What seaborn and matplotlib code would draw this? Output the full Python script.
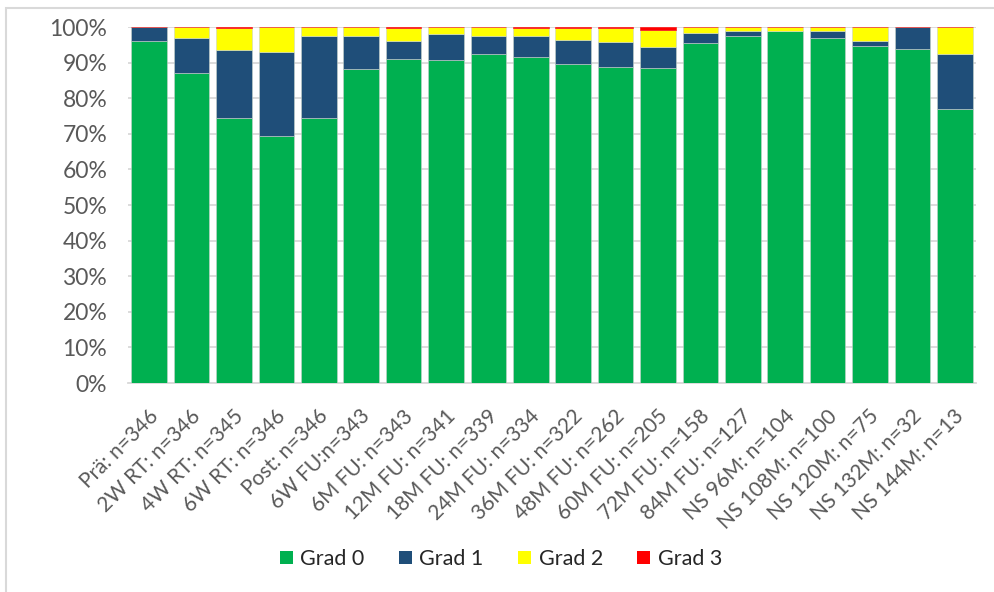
import matplotlib
matplotlib.use("Agg")
import matplotlib.pyplot as plt
import matplotlib.transforms as mtransforms
from matplotlib.patches import Rectangle, Patch
from matplotlib.ticker import FuncFormatter
import seaborn as sns
import pandas as pd
import numpy as np

categories = ["Prä: n=346", "2W RT: n=346", "4W RT: n=345", "6W RT: n=346",
              "Post: n=346", "6W FU:n=343", "6M FU: n=343", "12M FU: n=341",
              "18M FU: n=339", "24M FU: n=334", "36M FU: n=322", "48M FU: n=262",
              "60M FU: n=205", "72M FU: n=158", "84M FU: n=127", "NS 96M: n=104",
              "NS 108M: n=100", "NS 120M: n=75", "NS 132M: n=32", "NS 144M: n=13"]
grad0 = [96.1, 87.1, 74.4, 69.3, 74.3, 88.1, 91.0, 90.6, 92.4, 91.7,
         89.5, 88.7, 88.6, 95.4, 97.5, 99.0, 97.0, 94.7, 93.8, 76.9]
grad1 = [3.9, 9.7, 19.1, 23.8, 23.1, 9.5, 5.2, 7.3, 5.2, 5.9,
         6.8, 7.2, 5.8, 3.0, 1.4, 0.0, 2.0, 1.3, 6.2, 15.4]
grad2 = [0.0, 3.2, 6.2, 6.9, 2.6, 2.4, 3.4, 2.1, 2.4, 2.1,
         3.4, 3.7, 4.8, 1.6, 1.1, 1.0, 1.0, 4.0, 0.0, 7.7]
grad3 = [0.0, 0.0, 0.3, 0.0, 0.0, 0.0, 0.4, 0.0, 0.0, 0.3,
         0.3, 0.4, 0.8, 0.0, 0.0, 0.0, 0.0, 0.0, 0.0, 0.0]
series_names = ["Grad 0", "Grad 1", "Grad 2", "Grad 3"]
series_colors = ["#00B050", "#1F4E79", "#FFFF00", "#FF0000"]

sns.set_theme(style="white")
plt.rcParams["font.family"] = ["Lato", "DejaVu Sans"]

fig = plt.figure(figsize=(9.95, 5.92), dpi=100)
ax = fig.add_axes([128 / 995, 1 - 383 / 592, (976 - 128) / 995, (383 - 27) / 592])

df = pd.DataFrame({"Zeitpunkt": categories, "Grad 0": grad0, "Grad 1": grad1,
                   "Grad 2": grad2, "Grad 3": grad3})

bottom = np.zeros(len(categories))
for name, color in zip(series_names, series_colors):
    edge = "#c8d3cc" if name != "Grad 3" else color
    sns.barplot(data=df, x="Zeitpunkt", y=name, color=color, width=0.84,
                bottom=bottom, saturation=1, ax=ax, edgecolor=edge,
                linewidth=0.4, zorder=3)
    bottom = bottom + df[name].to_numpy()

ax.set_ylim(0, 100)
ax.set_xlim(-0.5, len(categories) - 0.5)
ax.set_yticks(np.arange(0, 101, 10))
ax.yaxis.set_major_formatter(FuncFormatter(lambda v, p: f"{v:.0f}%"))
ax.grid(axis="y", color="#D9D9D9", linewidth=1.3, zorder=0)
ax.set_axisbelow(True)
for side in ["top", "right", "left"]:
    ax.spines[side].set_visible(False)
ax.spines["bottom"].set_color("#D9D9D9")
ax.spines["bottom"].set_linewidth(1.3)
ax.set_xlabel("")
ax.set_ylabel("")
ax.tick_params(axis="y", length=0, labelsize=16.5, labelcolor="#595959", pad=15)

# rotated category labels, right end placed just below each bar
ax.set_xticks(range(len(categories)))
ax.set_xticklabels([])
ax.tick_params(axis="x", length=0)
label_shift = mtransforms.ScaledTranslation(-1 / 100, -23 / 100, fig.dpi_scale_trans)
for i, cat in enumerate(categories):
    ax.text(i, 0, cat, transform=ax.get_xaxis_transform() + label_shift,
            rotation=45, rotation_mode="anchor", ha="right", va="top",
            fontsize=15, color="#595959")

handles = [Patch(facecolor=c, edgecolor="none") for c in series_colors]
fig.legend(handles, series_names, loc="center", bbox_to_anchor=(501 / 995, 1 - 559 / 592),
           ncol=4, frameon=False, fontsize=15.5, handlelength=0.6, handleheight=0.6,
           handletextpad=0.35, columnspacing=1.6)

# outer chart frame
fig.patches.append(Rectangle((6 / 995, -0.05), 1.2, 1 - 8 / 592 + 0.05,
                             transform=fig.transFigure, fill=False,
                             edgecolor="#D9D9D9", linewidth=1.5, zorder=0))

fig.savefig("out.png", dpi=100)
